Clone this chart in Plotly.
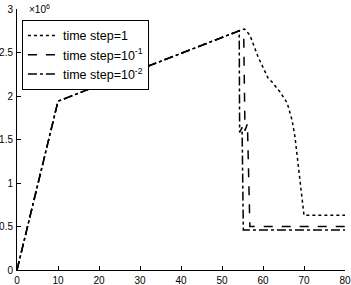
import plotly.graph_objects as go

# time (x) and value (in units of 1e6)
x_step1 = [0, 10, 54.2, 55.5, 56.8, 58.8, 61.2, 62.2, 64.1, 65.9, 67.1, 67.8, 70, 80]
y_step1 = [0, 1.94, 2.75, 2.77, 2.70, 2.45, 2.21, 2.16, 2.05, 1.92, 1.72, 1.53, 0.63, 0.63]

x_step01 = [0, 10, 54.2, 55.3, 55.6, 56.2, 56.8, 80]
y_step01 = [0, 1.94, 2.75, 2.70, 1.60, 1.68, 0.50, 0.50]

x_step001 = [0, 10, 54.2, 54.3, 54.9, 55.2, 80]
y_step001 = [0, 1.94, 2.75, 1.58, 1.64, 0.46, 0.46]

names = ["time step=1", "time step=10<sup>-1</sup>", "time step=10<sup>-2</sup>"]
xtick = [0, 10, 20, 30, 40, 50, 60, 70, 80]
ytick = [0, 0.5, 1, 1.5, 2, 2.5, 3]
ytext = ["0", "0.5", "1", "1.5", "2", "2.5", "3"]

fig = go.Figure()
for xs, ys, nm, dash in [(x_step1, y_step1, names[0], "dot"),
                         (x_step01, y_step01, names[1], "dash"),
                         (x_step001, y_step001, names[2], "dashdot")]:
    fig.add_trace(go.Scatter(x=xs, y=ys, name=nm, mode="lines",
                             line=dict(color="black", width=1.5, dash=dash)))

fig.update_layout(
    width=351, height=285,
    margin=dict(l=17, r=6, t=9, b=15),
    paper_bgcolor="white", plot_bgcolor="white",
    font=dict(family="Liberation Sans, Arial, sans-serif", size=10, color="black"),
    showlegend=True,
    legend=dict(x=0.015, y=0.958, xanchor="left", yanchor="top",
                bordercolor="black", borderwidth=1, bgcolor="white",
                font=dict(size=12.5), tracegroupgap=0, itemwidth=30),
    xaxis=dict(range=[0, 80], tickvals=xtick, showgrid=False, zeroline=False,
               showline=True, linecolor="black", linewidth=1, automargin=False,
               ticks="inside", ticklen=4, tickcolor="black", ticklabelstandoff=1),
    yaxis=dict(range=[0, 3], tickvals=ytick, ticktext=ytext, showgrid=False, zeroline=False,
               showline=True, linecolor="black", linewidth=1, automargin=False,
               ticks="inside", ticklen=4, tickcolor="black", ticklabelstandoff=1),
)
fig.add_annotation(text="×10<sup>6</sup>", xref="paper", yref="paper", x=0.0, y=1.0,
                   xanchor="left", yanchor="bottom", showarrow=False,
                   font=dict(size=10), xshift=10, yshift=-8)

fig.write_html("out.html", config={"displayModeBar": False},
               post_script="document.body.style.margin='0';document.body.style.padding='0';")
